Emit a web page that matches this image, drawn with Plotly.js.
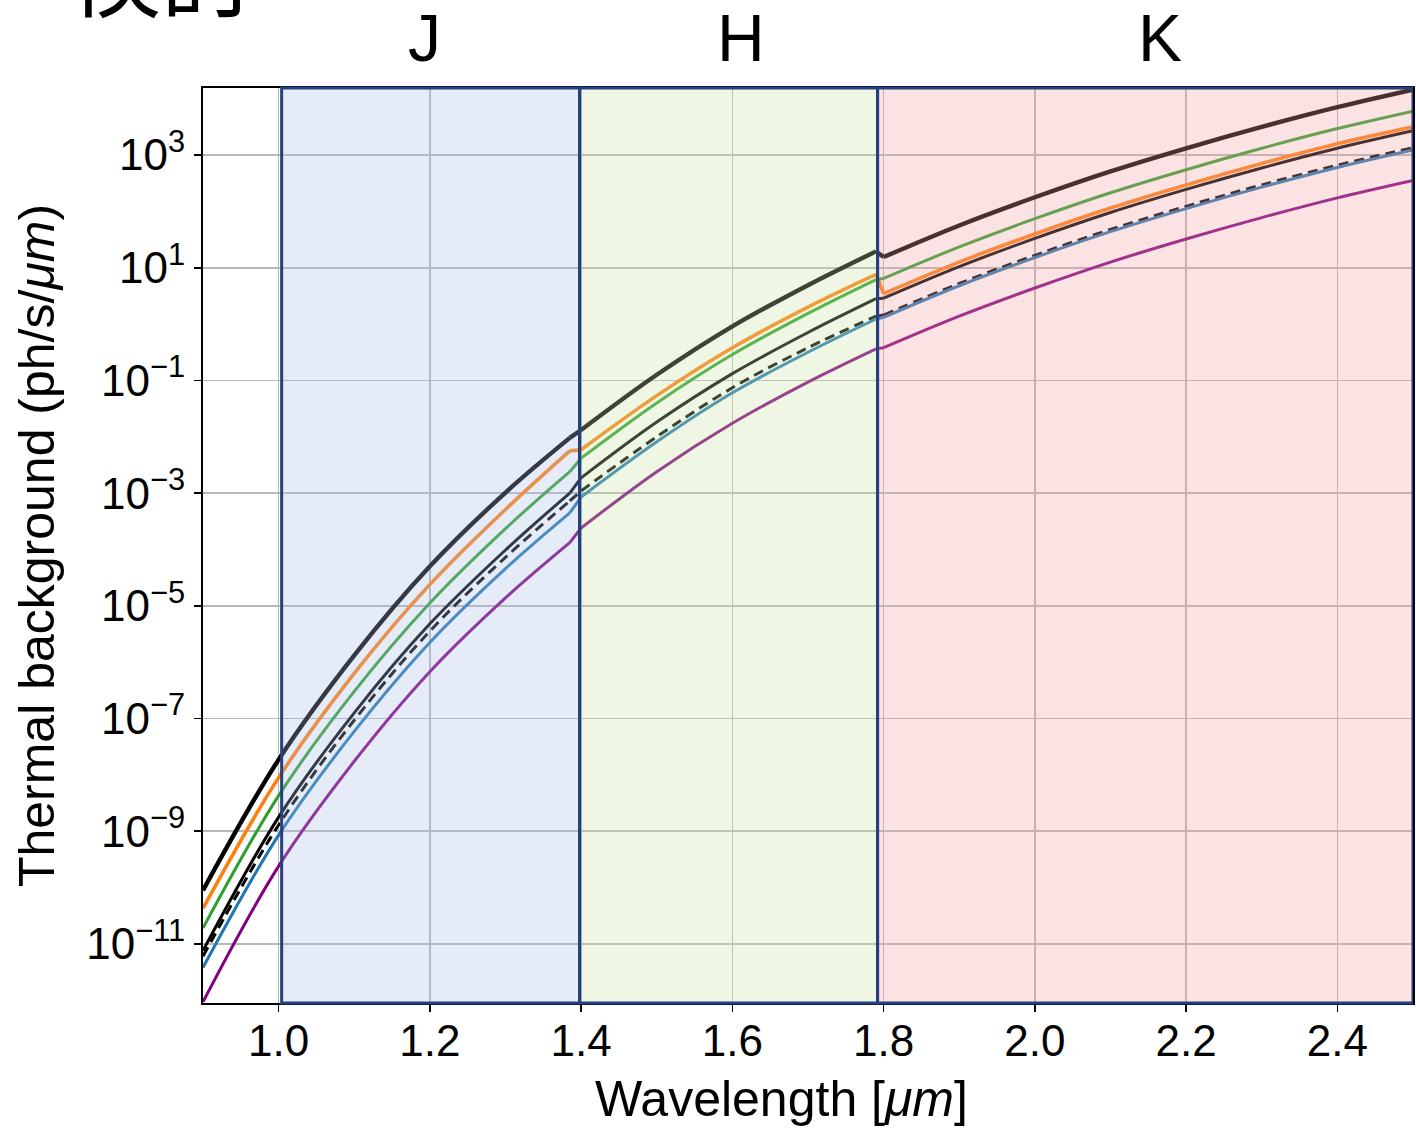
<!DOCTYPE html>
<html>
<head>
<meta charset="utf-8">
<script src="https://cdn.plot.ly/plotly-3.0.1.min.js"></script>
<style>html,body{margin:0;padding:0;background:#fff;}#chart{width:1416px;height:1128px;}</style>
</head>
<body>
<div id="chart"></div>
<script>
// Wavelength sample points (micron)
const wavelength = [0.9,1.0,1.1,1.2,1.3,1.385,1.4,1.5,1.6,1.7,1.79,1.8,1.9,2.0,2.1,2.2,2.3,2.4,2.5];
// log10 of thermal background (ph/s/um)
const blackThickLog = [-10.05,-7.73,-5.88,-4.30,-2.99,-2.02,-1.88,-0.90,-0.04,0.69,1.29,1.19,1.75,2.25,2.71,3.12,3.50,3.85,4.16];
const orangeLog     = [-10.37,-8.05,-6.20,-4.62,-3.29,-2.25,-2.23,-1.27,-0.42,0.30,0.88,0.54,1.10,1.60,2.06,2.47,2.85,3.20,3.50];
const greenLog      = [-10.72,-8.37,-6.52,-4.95,-3.63,-2.62,-2.38,-1.40,-0.54,0.19,0.79,0.81,1.37,1.87,2.33,2.74,3.12,3.47,3.78];
const blackSolidLog = [-11.12,-8.75,-6.90,-5.32,-4.01,-3.00,-2.73,-1.74,-0.88,-0.15,0.45,0.46,1.02,1.52,1.98,2.39,2.77,3.12,3.43];
const dashedLog     = [-11.22,-8.89,-7.03,-5.45,-4.14,-3.14,-2.96,-2.00,-1.13,-0.42,0.14,0.16,0.72,1.22,1.68,2.09,2.47,2.82,3.13];
const blueLog       = [-11.42,-9.07,-7.23,-5.65,-4.34,-3.35,-3.07,-2.09,-1.22,-0.50,0.09,0.12,0.68,1.18,1.64,2.05,2.43,2.78,3.09];
const purpleLog     = [-12.03,-9.62,-7.76,-6.17,-4.86,-3.88,-3.62,-2.62,-1.76,-1.03,-0.44,-0.42,0.14,0.64,1.10,1.51,1.89,2.24,2.55];

// Index ranges of smooth pieces (J, step, H, step, K)
const pieces = [[0,5],[5,6],[6,10],[10,11],[11,18]];

// Bands
const bandNames = ['J','H','K'];
const bandStart = [1.004,1.398,1.792];
const bandEnd   = [1.398,1.792,2.5];
const bandLabelX = [1.193,1.612,2.165];

const xTicks = [1.0,1.2,1.4,1.6,1.8,2.0,2.2,2.4];
const yTickExp = [-11,-9,-7,-5,-3,-1,1,3];

const pow10 = a => a.map(v => Math.pow(10, v));

const series = [
  {y: blackThickLog, color:'#000000', width:4.4, dash:'solid'},
  {y: orangeLog,     color:'#ff7f0e', width:3.6, dash:'solid'},
  {y: greenLog,      color:'#2ca02c', width:3.0, dash:'solid'},
  {y: blackSolidLog, color:'#000000', width:3.0, dash:'solid'},
  {y: dashedLog,     color:'#000000', width:3.0, dash:'10px,6px'},
  {y: blueLog,       color:'#1f77b4', width:3.0, dash:'solid'},
  {y: purpleLog,     color:'#800080', width:3.0, dash:'solid'}
];

const traces = [];
series.forEach(s => {
  const yv = pow10(s.y);
  pieces.forEach(([a,b]) => {
    traces.push({
      x: wavelength.slice(a,b+1), y: yv.slice(a,b+1), type:'scatter', mode:'lines',
      line:{color:s.color, width:s.width, dash:s.dash, shape:'spline', smoothing:1.0},
      hoverinfo:'skip', showlegend:false
    });
  });
});

const bandFill = ['rgb(172,188,232)','rgb(202,228,165)','rgb(242,162,165)'];
const shapes = [];
bandNames.forEach((b,i) => {
  shapes.push({type:'rect', xref:'x', yref:'paper', x0:bandStart[i], x1:bandEnd[i], y0:0, y1:1,
    fillcolor:bandFill[i], opacity:0.3, line:{width:0}, layer:'above'});
});
bandNames.forEach((b,i) => {
  shapes.push({type:'rect', xref:'x', yref:'paper', x0:bandStart[i], x1:bandEnd[i], y0:0, y1:1,
    fillcolor:'rgba(0,0,0,0)', line:{color:'#24407e', width:3}, layer:'above'});
});

const tickFont = {family:'Liberation Sans, Arial, sans-serif', size:44, color:'#000'};
const titleFont = {family:'Liberation Sans, Arial, sans-serif', size:50, color:'#000'};

const annotations = bandNames.map((b,i) => ({
  text:b, xref:'x', yref:'paper', x:bandLabelX[i], y:1.0546, xanchor:'center', yanchor:'middle',
  showarrow:false, font:{family:'Liberation Sans, Arial, sans-serif', size:66, color:'#000'}
}));
annotations.push({text:'検討', xref:'paper', yref:'paper', x:-0.0345, y:1.1296, xanchor:'center', yanchor:'middle',
  showarrow:false, font:{family:'Noto Sans CJK JP, sans-serif', size:94, color:'#000'}});
annotations.push({text:'Wavelength [<i>μm</i>]', xref:'paper', yref:'paper', x:0.4777, y:-0.1049,
  xanchor:'center', yanchor:'middle', showarrow:false, font:titleFont});

const layout = {
  width:1416, height:1128,
  margin:{l:203, r:3, t:88, b:125, pad:0},
  paper_bgcolor:'#fff', plot_bgcolor:'#fff',
  font: tickFont,
  showlegend:false,
  xaxis:{
    range:[0.9,2.5], tickvals:xTicks, ticktext:xTicks.map(v=>v.toFixed(1)),
    showgrid:true, gridcolor:'#b8b8b8', gridwidth:1.6,
    showline:true, linecolor:'#000', linewidth:2, mirror:true,
    ticks:'outside', ticklen:7, tickwidth:1.6, tickcolor:'#000',
    ticklabelstandoff:-9,
    tickfont:tickFont, zeroline:false
  },
  yaxis:{
    type:'log', range:[-12.05,4.19],
    tickvals:yTickExp.map(e=>Math.pow(10,e)),
    ticktext:yTickExp.map(e=>'10<sup>' + (e<0 ? '−'+Math.abs(e) : e) + '</sup>'),
    showgrid:true, gridcolor:'#b8b8b8', gridwidth:1.6,
    showline:true, linecolor:'#000', linewidth:2, mirror:true,
    ticks:'outside', ticklen:7, tickwidth:1.6, tickcolor:'#000',
    tickfont:tickFont, zeroline:false,
    title:{text:'Thermal background (ph/s/<i>μm</i>)', font:titleFont, standoff:16}
  },
  shapes: shapes,
  annotations: annotations
};

Plotly.newPlot('chart', traces, layout, {displayModeBar:false, staticPlot:true});
</script>
</body>
</html>
